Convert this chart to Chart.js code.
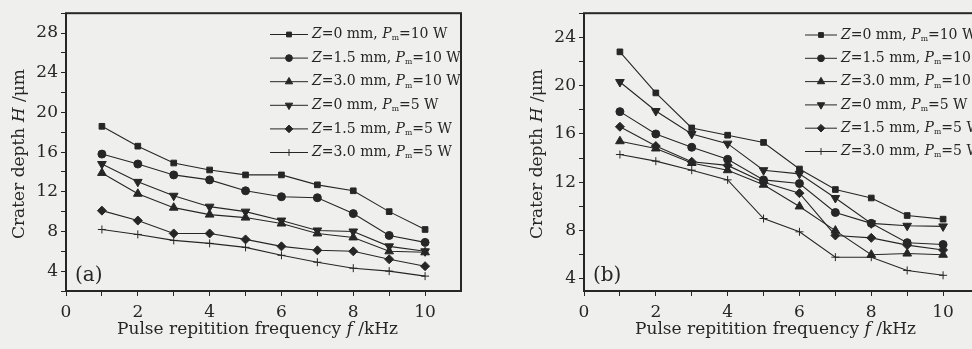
<!DOCTYPE html>
<html>
<head>
<meta charset="utf-8">
<script src="https://cdn.jsdelivr.net/npm/chart.js@4.4.0/dist/chart.umd.min.js"></script>
<style>
html, body { margin:0; padding:0; background:#efefed; overflow:hidden; width:972px; height:349px; }
.box { position:absolute; top:0; height:349px; width:470px; }
#boxA { left:0; }
#boxB { left:518px; }
</style>
</head>
<body>
<div class="box" id="boxA"><canvas id="chartA"></canvas></div>
<div class="box" id="boxB"><canvas id="chartB"></canvas></div>
<script>
// pulse repetition frequency (kHz)
const freq = [1, 2, 3, 4, 5, 6, 7, 8, 9, 10];
const zPos = ["0", "1.5", "3.0", "0", "1.5", "3.0"];
const power = ["10", "10", "10", "5", "5", "5"];
const xTicks = [0, 2, 4, 6, 8, 10];

// panel (a)
const aZ0P10 = [18.6, 16.6, 14.9, 14.2, 13.7, 13.7, 12.7, 12.1, 10.0, 8.2];
const aZ15P10 = [15.8, 14.8, 13.7, 13.2, 12.1, 11.5, 11.4, 9.8, 7.6, 6.9];
const aZ30P10 = [13.9, 11.8, 10.4, 9.7, 9.4, 8.8, 7.8, 7.4, 6.0, 5.9];
const aZ0P5 = [14.8, 13.0, 11.6, 10.5, 10.0, 9.1, 8.1, 8.0, 6.5, 6.0];
const aZ15P5 = [10.1, 9.1, 7.8, 7.8, 7.2, 6.5, 6.1, 6.0, 5.2, 4.5];
const aZ30P5 = [8.2, 7.7, 7.1, 6.8, 6.4, 5.6, 4.9, 4.3, 4.0, 3.5];
const aYTicks = [4, 8, 12, 16, 20, 24, 28];

// panel (b)
const bZ0P10 = [22.8, 19.4, 16.5, 15.9, 15.3, 13.1, 11.4, 10.7, 9.25, 8.95];
const bZ15P10 = [17.85, 16.0, 14.9, 13.9, 12.2, 11.9, 9.5, 8.6, 7.0, 6.85];
const bZ30P10 = [15.4, 14.8, 13.6, 13.0, 11.8, 10.0, 8.0, 6.0, 6.1, 6.0];
const bZ0P5 = [20.3, 17.9, 16.0, 15.2, 13.0, 12.7, 10.7, 8.6, 8.4, 8.35];
const bZ15P5 = [16.6, 15.0, 13.7, 13.4, 12.0, 11.1, 7.6, 7.4, 6.8, 6.4];
const bZ30P5 = [14.3, 13.75, 13.0, 12.2, 9.0, 7.9, 5.8, 5.8, 4.7, 4.3];
const bYTicks = [4, 8, 12, 16, 20, 24];

const SERIF = '"DejaVu Serif", serif';
const INK = '#262626';
const markers = [
  { style: 'rect', r: 4, rot: 0 },
  { style: 'circle', r: 4, rot: 0 },
  { style: 'triangle', r: 5, rot: 0 },
  { style: 'triangle', r: 5, rot: 180 },
  { style: 'rectRot', r: 4.5, rot: 0 },
  { style: 'cross', r: 4, rot: 0 }
];

function makeSets(series) {
  return series.map((vals, i) => ({
    label: 'Z=' + zPos[i] + ' mm, Pm=' + power[i] + ' W',
    data: freq.map((f, k) => ({ x: f, y: vals[k] })),
    borderColor: INK,
    backgroundColor: INK,
    borderWidth: 1.1,
    pointStyle: markers[i].style,
    pointRadius: markers[i].r,
    pointRotation: markers[i].rot,
    pointBorderWidth: 1,
    tension: 0
  }));
}

// draw text runs: [text, 'n' | 'i' | 'sub']
function runWidth(ctx, parts, size) {
  let w = 0;
  for (const [t, s] of parts) {
    ctx.font = (s === 'i' ? 'italic ' : '') + (s === 'sub' ? size * 0.55 : size) + 'px ' + SERIF;
    w += ctx.measureText(t).width;
  }
  return w;
}
function drawRuns(ctx, parts, x, y, size) {
  let cx = x;
  for (const [t, s] of parts) {
    ctx.font = (s === 'i' ? 'italic ' : '') + (s === 'sub' ? size * 0.55 : size) + 'px ' + SERIF;
    ctx.fillText(t, cx, s === 'sub' ? y + size * 0.28 : y);
    cx += ctx.measureText(t).width;
  }
}

const paper = {
  id: 'paper',
  afterDraw(chart, args, o) {
    const ctx = chart.ctx;
    const a = chart.chartArea;
    ctx.save();
    ctx.strokeStyle = INK;
    ctx.lineWidth = 2;
    ctx.strokeRect(a.left, a.top, a.right - a.left, a.bottom - a.top);
    ctx.fillStyle = INK;
    ctx.textBaseline = 'middle';

    // legend
    chart.data.datasets.forEach((ds, i) => {
      const y = o.legY + i * o.legStep;
      ctx.beginPath();
      ctx.lineWidth = 1;
      ctx.moveTo(o.legX, y);
      ctx.lineTo(o.legX + o.legLen, y);
      ctx.stroke();
      Chart.helpers.drawPoint(ctx, {
        pointStyle: ds.pointStyle, radius: ds.pointRadius * 0.85,
        rotation: ds.pointRotation, borderWidth: 1
      }, o.legX + o.legLen / 2, y);
      drawRuns(ctx, [['Z', 'i'], ['=' + zPos[i] + ' mm, ', 'n'], ['P', 'i'], ['m', 'sub'],
        ['=' + power[i] + ' W', 'n']], o.legX + o.legLen + 4, y, 14);
    });

    // panel tag
    ctx.font = '20px ' + SERIF;
    ctx.fillText(o.tag, a.left + 9, 276);

    // axis titles
    const xt = [['Pulse repitition frequency ', 'n'], ['f', 'i'], [' /kHz', 'n']];
    const xw = runWidth(ctx, xt, 17);
    drawRuns(ctx, xt, (a.left + a.right) / 2 - 6 - xw / 2, 330, 17);
    const yt = [['Crater depth ', 'n'], ['H', 'i'], [' /\u03bcm', 'n']];
    const yw = runWidth(ctx, yt, 17);
    ctx.translate(a.left - 46, (a.top + a.bottom) / 2 + 2);
    ctx.rotate(-Math.PI / 2);
    drawRuns(ctx, yt, -yw / 2, 0, 17);
    ctx.restore();
  }
};

function makeChart(id, series, yMin, yMax, yLabels, opts) {
  return new Chart(document.getElementById(id), {
    type: 'line',
    data: { datasets: makeSets(series) },
    plugins: [paper],
    options: {
      responsive: true,
      maintainAspectRatio: false,
      animation: false,
      layout: { padding: { top: opts.top, right: 9, left: 0, bottom: 0 } },
      plugins: { legend: { display: false }, tooltip: { enabled: false }, paper: opts },
      scales: {
        x: {
          type: 'linear', min: 0, max: 11,
          afterBuildTicks: s => { s.ticks = s.ticks.filter(t => t.value <= 10); },
          afterFit: s => { s.height = 58; },
          border: { display: false },
          grid: { drawOnChartArea: false, tickLength: 5, color: INK },
          ticks: {
            stepSize: 1, padding: 6, autoSkip: false, maxRotation: 0,
            color: INK, font: { family: SERIF, size: 17 },
            callback: v => xTicks.includes(v) ? String(v) : ''
          }
        },
        y: {
          min: yMin, max: yMax,
          afterBuildTicks: s => {
            const t = [];
            for (let v = Math.ceil(yMin / 2) * 2; v <= yMax; v += 2) t.push({ value: v });
            s.ticks = t;
          },
          afterFit: s => { s.width = 66; },
          border: { display: false },
          grid: { drawOnChartArea: false, tickLength: 5, color: INK },
          ticks: {
            stepSize: 2, padding: 3, autoSkip: false,
            color: INK, font: { family: SERIF, size: 17 },
            callback: v => yLabels.includes(v) ? String(v) : ''
          }
        }
      }
    }
  });
}

makeChart('chartA', [aZ0P10, aZ15P10, aZ30P10, aZ0P5, aZ15P5, aZ30P5], 2, 30, aYTicks,
  { top: 9, tag: '(a)', legX: 270, legY: 34.5, legStep: 23.6, legLen: 38 });
makeChart('chartB', [bZ0P10, bZ15P10, bZ30P10, bZ0P5, bZ15P5, bZ30P5], 3, 26, bYTicks,
  { top: 11, tag: '(b)', legX: 287, legY: 35, legStep: 23.3, legLen: 32 });
</script>
</body>
</html>
